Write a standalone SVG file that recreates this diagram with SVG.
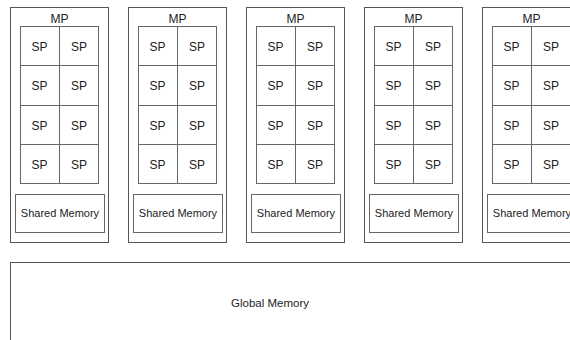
<svg xmlns="http://www.w3.org/2000/svg" width="570" height="340" viewBox="0 0 570 340">
<style>
.mp{fill:#fff;stroke:#555;stroke-width:1}
.grid{fill:none;stroke:#666;stroke-width:1}
.sm{fill:#fff;stroke:#666;stroke-width:1}
text{font-family:"Liberation Sans",Arial,sans-serif;fill:#222;text-anchor:middle}
.t12{font-size:12px}
.t11{font-size:11px}
.tg{font-size:11.5px}
</style>
<defs>
<g id="mpTpl">
<rect class="mp" x="10.5" y="7.5" width="98" height="235"/>
<text class="t12" x="59.5" y="22.5">MP</text>
<rect class="grid" x="20.5" y="26.5" width="78" height="157"/>
<line class="grid" x1="59.5" y1="26.5" x2="59.5" y2="183.5"/>
<line class="grid" x1="20.5" y1="65.5" x2="98.5" y2="65.5"/>
<line class="grid" x1="20.5" y1="105.5" x2="98.5" y2="105.5"/>
<line class="grid" x1="20.5" y1="144.5" x2="98.5" y2="144.5"/>
<text class="t12" x="39.5" y="50.5">SP</text><text class="t12" x="79" y="50.5">SP</text>
<text class="t12" x="39.5" y="90">SP</text><text class="t12" x="79" y="90">SP</text>
<text class="t12" x="39.5" y="129.5">SP</text><text class="t12" x="79" y="129.5">SP</text>
<text class="t12" x="39.5" y="169">SP</text><text class="t12" x="79" y="169">SP</text>
<rect class="sm" x="15.5" y="194.5" width="89" height="38"/>
<text class="t11" x="60" y="217">Shared Memory</text>
</g>
</defs>
<g id="mp1"><use href="#mpTpl"/></g>
<g id="mp2"><use href="#mpTpl" x="118"/></g>
<g id="mp3"><use href="#mpTpl" x="236"/></g>
<g id="mp4"><use href="#mpTpl" x="354"/></g>
<g id="mp5"><use href="#mpTpl" x="472"/></g>
<g id="global">
<rect class="mp" x="10.5" y="262.5" width="600" height="120"/>
<text class="tg" x="270" y="306.5">Global Memory</text>
</g>
<g id="connectors"/>
</svg>
